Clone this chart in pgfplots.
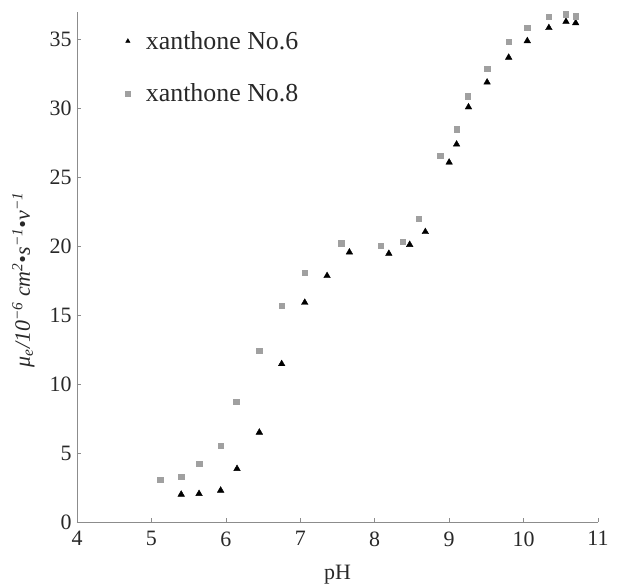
\documentclass[border=0pt]{standalone}
\usepackage{pgfplots}
\pgfplotsset{compat=1.18}
\usepackage{fontspec}
\setmainfont{Liberation Serif}

\definecolor{axgray}{RGB}{140,140,140}
\definecolor{sqgray}{RGB}{160,160,160}
\definecolor{txt}{RGB}{40,40,40}

\begin{document}
\begin{tikzpicture}
\path[use as bounding box] (-77bp,-62bp) rectangle (559bp,522bp);
\begin{axis}[
    scale only axis,
    width=521bp,
    height=510bp,
    xmin=4, xmax=11,
    ymin=0, ymax=37,
    xtick={4,5,...,11},
    ytick={0,5,...,35},
    axis x line*=bottom,
    axis y line*=left,
    axis line style={axgray, line width=0.8pt},
    tick style={axgray, line width=0.6pt},
    tick align=inside,
    major tick length=4bp,
    /pgf/number format/assume math mode=true,
    ticklabel style={font=\fontsize{22}{26}\selectfont, text=txt},
    xticklabel style={yshift=-6bp},
    yticklabel style={xshift=-2bp},
    xlabel={pH},
    xlabel style={font=\fontsize{22}{26}\selectfont, text=txt, yshift=-12bp},
    ylabel={\textit{μ\textsubscript{e}/10\textsuperscript{−6} cm\textsuperscript{2}•s\textsuperscript{−1}•v\textsuperscript{−1}}},
    ylabel style={font=\fontsize{22}{26}\selectfont, text=txt, at={(axis description cs:-0.103,0.475)}, anchor=center},
    legend style={draw=none, fill=none, at={(axis description cs:0.08,0.97)}, anchor=north west,
        font=\fontsize{26}{30}\selectfont, text=txt, row sep=29bp},
    legend cell align=left,
    legend image code/.code={
        \draw[#1, mark size=2.6bp] plot coordinates {(0bp,0bp)};
        \path[draw=none, fill=none] (-6bp,0bp) rectangle (16bp,1bp);
    },
]
\addplot[only marks, mark=triangle*, mark size=3.8bp, black] coordinates {
    (5.40,2.00) (5.64,2.05) (5.93,2.29) (6.15,3.86) (6.45,6.50)
    (6.75,11.47) (7.06,15.92) (7.36,17.86) (7.66,19.57) (8.19,19.47)
    (8.47,20.12) (8.68,21.05) (9.00,26.09) (9.10,27.40) (9.26,30.10)
    (9.51,31.90) (9.80,33.70) (10.05,34.90) (10.34,35.85) (10.57,36.30)
    (10.70,36.20)
};
\addlegendentry{xanthone No.6}
\addplot[only marks, mark=square*, mark size=2.7bp, sqgray] coordinates {
    (5.12,3.06) (5.40,3.30) (5.64,4.22) (5.93,5.52) (6.14,8.72)
    (6.45,12.44) (6.75,15.70) (7.06,18.10) (7.55,20.22) (8.08,20.03)
    (8.38,20.32) (8.59,22.00) (8.88,26.57) (9.10,28.50) (9.25,30.90)
    (9.51,32.90) (9.80,34.85) (10.05,35.85) (10.34,36.68) (10.57,36.85)
    (10.70,36.70)
};
\addlegendentry{xanthone No.8}
\end{axis}
\end{tikzpicture}
\end{document}
